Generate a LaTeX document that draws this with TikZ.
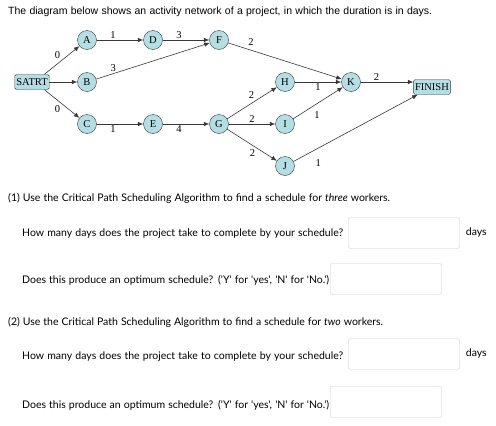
\documentclass[tikz,border=0pt]{standalone}
\usepackage{fontspec}
\setmainfont{Liberation Serif}
\newfontfamily\headfont{Liberation Sans}
\newfontfamily\qfont{Lato}
\usetikzlibrary{positioning,arrows.meta}
\definecolor{nodefill}{RGB}{180,222,228}
\definecolor{edgecol}{RGB}{55,55,55}
\definecolor{boxcol}{RGB}{200,200,200}

\begin{document}
\begin{tikzpicture}[x=1pt,y=1pt,>={Latex[length=5.5pt,width=4.5pt]},
   node distance=42pt and 66pt,
   every node/.style={font=\fontsize{10.5}{12}\selectfont},
   act/.style={circle,draw=edgecol,fill=nodefill,inner sep=0pt,minimum size=19pt,on grid},
   term/.style={rectangle,rounded corners=1.5pt,draw=edgecol,fill=nodefill,inner sep=1.5pt,
     minimum height=15pt},
   link/.style={->,draw=edgecol,line width=0.6pt},
   lbl/.style={inner sep=1.5pt},
   qtext/.style={anchor=west,inner sep=0pt,font=\qfont\fontsize{10.5}{12}\selectfont},
   ansbox/.style={draw=boxcol,rounded corners=2pt,minimum width=111pt,minimum height=31pt,inner sep=0pt}]
  \useasboundingbox (0,0) rectangle (496,-426);
  \node[anchor=west,inner sep=0pt,font=\headfont\fontsize{10.5}{12}\selectfont] (head) at (8,-12)
    {\makebox[424pt][s]{The diagram below shows an activity network of a project, in which the duration is in days.}};
  % activity network
  \node[act] (A) at (87,-40) {A};
  \node[act] (B) [below=of A] {B};
  \node[act] (C) [below=of B] {C};
  \node[act] (D) [right=of A] {D};
  \node[act] (F) [right=of D] {F};
  \node[act] (E) [right=of C] {E};
  \node[act] (G) [right=of E] {G};
  \node[act] (H) [below right=of F] {H};
  \node[act] (I) [right=of G] {I};
  \node[act] (J) [below=of I] {J};
  \node[act] (K) [right=of H] {K};
  \node[term,on grid] (start) [left=55pt of B] {SATRT};
  \node[term] (finish) at (432,-87) {FINISH};
  \draw[link] ([xshift=-5pt]start.north east) -- node[lbl,above left]{0} (A);
  \draw[link] (start) -- (B);
  \draw[link] ([xshift=-5pt]start.south east) -- node[lbl,below left]{0} (C);
  \draw[link] (A) -- node[lbl,pos=.35,above]{1} (D);
  \draw[link] (D) -- node[lbl,pos=.35,above]{3} (F);
  \draw[link] (B) -- node[lbl,pos=.15,above]{3} (F);
  \draw[link] (F) -- node[lbl,pos=.2,above=3pt]{2} (K);
  \draw[link] (C) -- node[lbl,pos=.35,below]{1} (E);
  \draw[link] (E) -- node[lbl,pos=.35,below]{4} (G);
  \draw[link] (G) -- node[lbl,pos=.58,above left]{2} (H);
  \draw[link] (G) -- node[lbl,pos=.5,above]{2} (I);
  \draw[link] (G) -- node[lbl,pos=.6,below left]{2} (J);
  \draw[link] (H) -- node[lbl,pos=.5,below]{1} (K);
  \draw[link] (I) -- node[lbl,pos=.35,below right=3pt]{1} (K);
  \draw[link] (K) -- node[lbl,pos=.3,above]{2} (K -| finish.west);
  \draw[link] (J) -- node[lbl,pos=.2,below=10pt]{1} (finish);
  % questions
  \node[qtext] (q1) at (8,-198) {\makebox[382pt][s]{(1) Use the Critical Path Scheduling Algorithm to find a schedule for \textit{three} workers.}};
  \node[qtext] (q1a) at (22,-234) {\makebox[321pt][s]{How many days does the project take to complete by your schedule?}};
  \node[ansbox] (b1a) at (404,-233) {};
  \node[qtext] (d1) [right=6pt of b1a] {days};
  \node[qtext] (q1b) at (22,-280) {\makebox[307pt][s]{Does this produce an optimum schedule? ('Y' for 'yes', 'N' for 'No.')}};
  \node[ansbox] (b1b) at (386,-279) {};
  \node[qtext] (q2) at (8,-322) {\makebox[375pt][s]{(2) Use the Critical Path Scheduling Algorithm to find a schedule for \textit{two} workers.}};
  \node[qtext] (q2a) at (22,-357) {\makebox[321pt][s]{How many days does the project take to complete by your schedule?}};
  \node[ansbox] (b2a) at (404,-354) {};
  \node[qtext] (d2) [right=6pt of b2a] {days};
  \node[qtext] (q2b) at (22,-405) {\makebox[307pt][s]{Does this produce an optimum schedule? ('Y' for 'yes', 'N' for 'No.')}};
  \node[ansbox] (b2b) at (386,-402) {};
\end{tikzpicture}
\end{document}
